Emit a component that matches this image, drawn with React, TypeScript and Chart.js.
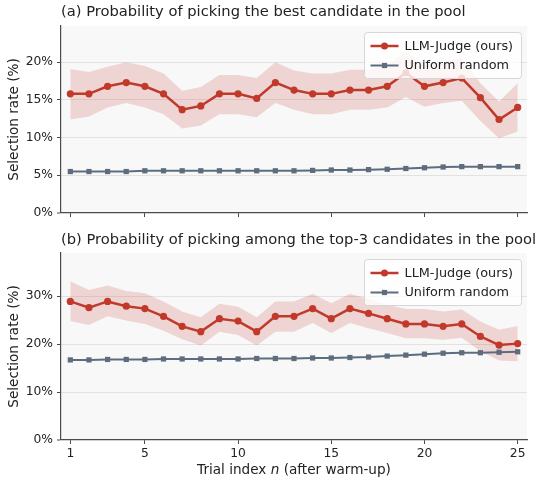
import React, { useEffect, useRef } from "react";
import { Chart, registerables } from "chart.js";

Chart.register(...registerables);

// Trial indices after warm-up
const trials = [1, 2, 3, 4, 5, 6, 7, 8, 9, 10, 11, 12, 13, 14, 15, 16, 17, 18, 19, 20, 21, 22, 23, 24, 25];

// (a) best candidate in the pool, selection rate in %
const bestJudge = [15.8, 15.8, 16.8, 17.3, 16.8, 15.8, 13.7, 14.2, 15.8, 15.8, 15.2, 17.3, 16.3, 15.8, 15.8, 16.3, 16.3, 16.8, 18.6, 16.8, 17.3, 17.9, 15.3, 12.4, 14.0];
const bestJudgeUpper = [19.1, 18.7, 19.4, 20.0, 19.5, 18.5, 16.2, 16.7, 18.3, 18.3, 17.9, 20.0, 18.9, 18.5, 18.5, 19.0, 19.0, 19.6, 21.4, 19.6, 20.1, 20.6, 17.2, 14.8, 17.2];
const bestJudgeLower = [12.4, 12.8, 14.0, 14.6, 14.0, 13.1, 11.2, 11.6, 13.1, 13.1, 12.7, 14.6, 13.7, 13.1, 13.1, 13.7, 13.7, 14.0, 15.4, 14.1, 14.6, 14.9, 12.2, 9.9, 10.8];
const bestRandom = [5.5, 5.5, 5.5, 5.5, 5.6, 5.6, 5.6, 5.6, 5.6, 5.6, 5.6, 5.6, 5.6, 5.65, 5.7, 5.7, 5.75, 5.8, 5.9, 6.0, 6.1, 6.15, 6.15, 6.15, 6.15];

// (b) among the top-3 candidates in the pool, selection rate in %
const top3Judge = [28.9, 27.6, 28.9, 27.9, 27.4, 25.8, 23.7, 22.6, 25.3, 24.8, 22.6, 25.8, 25.8, 27.4, 25.3, 27.4, 26.4, 25.3, 24.2, 24.2, 23.7, 24.2, 21.6, 19.8, 20.1];
const top3JudgeUpper = [33.1, 31.3, 32.2, 31.1, 30.6, 28.9, 26.8, 25.6, 28.4, 27.8, 25.6, 28.9, 28.9, 30.5, 28.5, 30.5, 29.4, 28.2, 27.3, 27.3, 26.8, 27.2, 24.7, 23.0, 23.8];
const top3JudgeLower = [24.8, 24.0, 25.8, 24.9, 24.2, 22.8, 21.0, 19.7, 22.6, 21.9, 19.7, 22.6, 22.6, 24.4, 22.3, 24.4, 23.3, 22.3, 21.2, 21.2, 20.9, 21.3, 18.5, 16.6, 16.4];
const top3Random = [16.7, 16.7, 16.8, 16.8, 16.8, 16.9, 16.9, 16.9, 16.9, 16.9, 17.0, 17.0, 17.0, 17.1, 17.1, 17.2, 17.3, 17.5, 17.7, 17.9, 18.1, 18.2, 18.2, 18.3, 18.4];

const xTicks = [1, 5, 10, 15, 20, 25];
const bestYTicks = [0, 5, 10, 15, 20];
const top3YTicks = [0, 10, 20, 30];

const seriesJudge = "LLM-Judge (ours)";
const seriesRandom = "Uniform random";
const titleBest = "(a) Probability of picking the best candidate in the pool";
const titleTop3 = "(b) Probability of picking among the top-3 candidates in the pool";
const yTitle = "Selection rate (%)";

const FONT = '"DejaVu Sans", sans-serif';
const RED = "#c0392b";
const SLATE = "#5d6d7e";
const BAND = "rgba(192, 57, 43, 0.18)";
const SPINE = "#4a4a4a";
const GRID = "#e2e2e2";
const TEXT = "#222222";
const PANEL_BG = "#f8f8f8";

Chart.defaults.font.family = FONT;

type PanelConfig = {
  title: string;
  judge: number[];
  upper: number[];
  lower: number[];
  random: number[];
  yMax: number;
  yTicks: number[];
  showXLabels: boolean;
  height: number;
  padTop: number;
  xAxisHeight: number;
};

const PANELS: PanelConfig[] = [
  {
    title: titleBest,
    judge: bestJudge,
    upper: bestJudgeUpper,
    lower: bestJudgeLower,
    random: bestRandom,
    yMax: 24.8,
    yTicks: bestYTicks,
    showXLabels: false,
    height: 228,
    padTop: 26,
    xAxisHeight: 15,
  },
  {
    title: titleTop3,
    judge: top3Judge,
    upper: top3JudgeUpper,
    lower: top3JudgeLower,
    random: top3Random,
    yMax: 39,
    yTicks: top3YTicks,
    showXLabels: true,
    height: 256,
    padTop: 25,
    xAxisHeight: 44,
  },
];

function toPoints(values: number[]) {
  return trials.map((t, i) => ({ x: t, y: values[i] }));
}

function drawLegend(ctx: CanvasRenderingContext2D, area: { top: number; right: number }) {
  const bw = 157;
  const bh = 46;
  const bx = Math.round(area.right - 6 - bw) + 0.5;
  const by = Math.round(area.top + 6) + 0.5;
  ctx.save();
  ctx.beginPath();
  ctx.roundRect(bx, by, bw, bh, 3);
  ctx.fillStyle = "rgba(255,255,255,0.8)";
  ctx.fill();
  ctx.strokeStyle = "#d6d6d6";
  ctx.lineWidth = 1;
  ctx.stroke();

  const entries = [
    { label: seriesJudge, color: RED, lw: 2.5, shape: "circle" },
    { label: seriesRandom, color: SLATE, lw: 2, shape: "rect" },
  ];
  entries.forEach((e, i) => {
    const y = by + 13.5 + i * 19.5;
    const x0 = bx + 6;
    const x1 = bx + 34;
    const xm = (x0 + x1) / 2;
    ctx.strokeStyle = e.color;
    ctx.lineWidth = e.lw;
    ctx.beginPath();
    ctx.moveTo(x0, y);
    ctx.lineTo(x1, y);
    ctx.stroke();
    ctx.fillStyle = e.color;
    if (e.shape === "circle") {
      ctx.beginPath();
      ctx.arc(xm, y, 3.5, 0, Math.PI * 2);
      ctx.fill();
    } else {
      ctx.fillRect(xm - 2.6, y - 2.6, 5.2, 5.2);
    }
    ctx.fillStyle = TEXT;
    ctx.font = `12.8px ${FONT}`;
    ctx.textBaseline = "middle";
    ctx.textAlign = "left";
    ctx.fillText(e.label, bx + 40, y + 0.5);
  });
  ctx.restore();
}

function drawXTitle(ctx: CanvasRenderingContext2D, cx: number, y: number) {
  const parts = [
    { text: "Trial index ", font: `13.6px ${FONT}` },
    { text: "n", font: `italic 13.6px ${FONT}` },
    { text: " (after warm-up)", font: `13.6px ${FONT}` },
  ];
  ctx.save();
  let total = 0;
  const widths = parts.map((p) => {
    ctx.font = p.font;
    const w = ctx.measureText(p.text).width;
    total += w;
    return w;
  });
  let x = cx - total / 2;
  ctx.fillStyle = TEXT;
  ctx.textBaseline = "middle";
  ctx.textAlign = "left";
  parts.forEach((p, i) => {
    ctx.font = p.font;
    ctx.fillText(p.text, x, y);
    x += widths[i];
  });
  ctx.restore();
}

function makeChart(canvas: HTMLCanvasElement, cfg: PanelConfig) {
  const decor = {
    id: "panelDecor",
    beforeDraw(chart: any) {
      const { ctx, chartArea: a } = chart;
      ctx.save();
      ctx.fillStyle = PANEL_BG;
      ctx.fillRect(a.left, a.top, a.right - a.left, a.bottom - a.top);
      ctx.restore();
    },
    afterDraw(chart: any) {
      const { ctx, chartArea: a } = chart;
      ctx.save();
      ctx.fillStyle = TEXT;
      ctx.font = `14.7px ${FONT}`;
      ctx.textBaseline = "middle";
      ctx.textAlign = "left";
      ctx.fillText(cfg.title, a.left, 12);
      ctx.restore();
      drawLegend(ctx, a);
      if (cfg.showXLabels) {
        drawXTitle(ctx, (a.left + a.right) / 2, chart.height - 14);
      }
    },
  };

  return new Chart(canvas, {
    type: "line",
    data: {
      datasets: [
        {
          label: "band-lower",
          data: toPoints(cfg.lower),
          borderColor: "rgba(0,0,0,0)",
          borderWidth: 0,
          pointRadius: 0,
          fill: false,
          order: 3,
        },
        {
          label: "band-upper",
          data: toPoints(cfg.upper),
          borderColor: "rgba(0,0,0,0)",
          borderWidth: 0,
          pointRadius: 0,
          backgroundColor: BAND,
          fill: "-1",
          order: 3,
        },
        {
          label: seriesRandom,
          data: toPoints(cfg.random),
          borderColor: SLATE,
          backgroundColor: SLATE,
          borderWidth: 2,
          pointStyle: "rect",
          pointRadius: 3.7,
          pointBorderWidth: 0,
          order: 2,
        },
        {
          label: seriesJudge,
          data: toPoints(cfg.judge),
          borderColor: RED,
          backgroundColor: RED,
          borderWidth: 2.5,
          pointStyle: "circle",
          pointRadius: 3.6,
          pointBorderWidth: 0,
          order: 1,
        },
      ],
    },
    options: {
      responsive: false,
      animation: false,
      devicePixelRatio: 1,
      layout: { padding: { left: 0, right: 12, top: cfg.padTop, bottom: 0 } },
      plugins: {
        legend: { display: false },
        tooltip: { enabled: false },
        title: { display: false },
      },
      scales: {
        x: {
          type: "linear",
          min: 0.5,
          max: 25.5,
          afterBuildTicks: (s: any) => {
            s.ticks = xTicks.map((v) => ({ value: v }));
          },
          afterFit: (s: any) => {
            s.height = cfg.xAxisHeight;
          },
          ticks: {
            display: cfg.showXLabels,
            autoSkip: false,
            maxRotation: 0,
            padding: 2,
            color: TEXT,
            font: { family: FONT, size: 12.3 },
            callback: (v: any) => String(v),
          },
          grid: {
            drawOnChartArea: false,
            drawTicks: true,
            tickLength: 4,
            tickColor: SPINE,
            tickWidth: 1,
          },
          border: { display: true, color: SPINE, width: 1.2 },
        },
        y: {
          min: 0,
          max: cfg.yMax,
          afterBuildTicks: (s: any) => {
            s.ticks = cfg.yTicks.map((v) => ({ value: v }));
          },
          afterFit: (s: any) => {
            s.width = 61;
          },
          ticks: {
            padding: 4,
            color: TEXT,
            font: { family: FONT, size: 12.3 },
            callback: (v: any) => `${v}%`,
          },
          grid: {
            color: GRID,
            lineWidth: (c: any) => (c.tick && c.tick.value === 0 ? 0 : 1),
            tickLength: 4,
            tickColor: SPINE,
            tickWidth: 1,
          },
          border: { display: true, color: SPINE, width: 1.2 },
          title: {
            display: true,
            text: yTitle,
            color: TEXT,
            font: { family: FONT, size: 13.6 },
            padding: { top: 6, bottom: 0 },
          },
        },
      },
    },
    plugins: [decor],
  } as any);
}

function Panel({ cfg }: { cfg: PanelConfig }) {
  const ref = useRef<HTMLCanvasElement>(null);
  useEffect(() => {
    const chart = makeChart(ref.current!, cfg);
    return () => chart.destroy();
  }, [cfg]);
  return (
    <canvas
      ref={ref}
      width={539}
      height={cfg.height}
      style={{ display: "block", width: 539, height: cfg.height }}
    />
  );
}

export default function App() {
  return (
    <div
      style={{
        position: "absolute",
        left: 0,
        top: 0,
        width: 539,
        height: 484,
        background: "#ffffff",
      }}
    >
      {PANELS.map((p, i) => (
        <Panel key={i} cfg={p} />
      ))}
    </div>
  );
}
